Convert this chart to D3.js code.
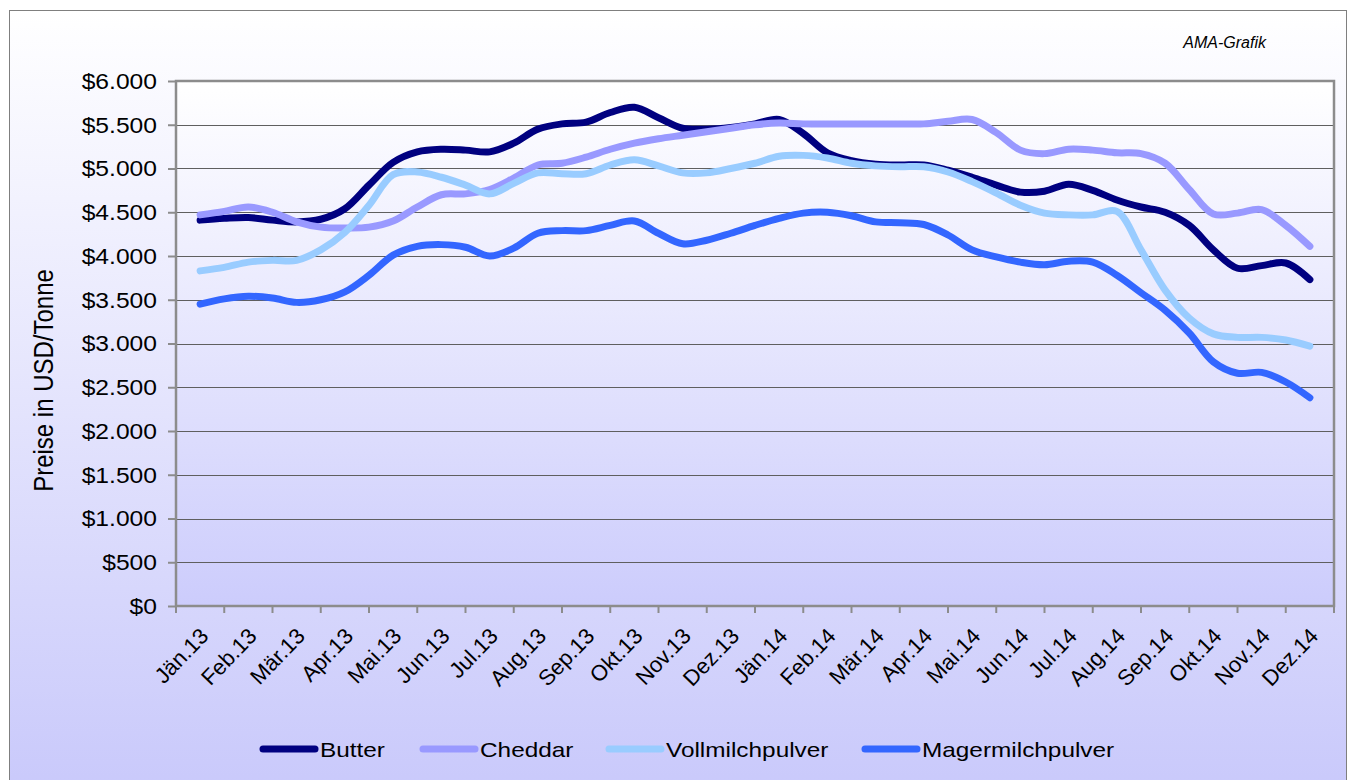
<!DOCTYPE html>
<html>
<head>
<meta charset="utf-8">
<script src="https://cdn.jsdelivr.net/npm/d3@7"></script>
<style>
  body { margin: 0; background: #fff; }
  svg { display: block; font-family: Arial, "Liberation Sans", sans-serif; }
</style>
</head>
<body>
<svg width="1348" height="780"></svg>
<script>
// month labels (category axis)
var months = ["Jän.13","Feb.13","Mär.13","Apr.13","Mai.13","Jun.13","Jul.13","Aug.13","Sep.13","Okt.13","Nov.13","Dez.13",
              "Jän.14","Feb.14","Mär.14","Apr.14","Mai.14","Jun.14","Jul.14","Aug.14","Sep.14","Okt.14","Nov.14","Dez.14"];

// semi-monthly prices, USD per tonne
var butter = [4410,4430,4440,4410,4390,4420,4540,4810,5070,5190,5220,5210,5190,5290,5450,5510,5530,5640,5700,5580,5460,5450,5470,5510,
              5560,5400,5180,5090,5050,5040,5040,4980,4900,4810,4730,4740,4820,4750,4640,4560,4500,4350,4070,3860,3890,3920,3730];
var cheddar = [4470,4510,4560,4500,4390,4330,4320,4330,4400,4560,4700,4710,4760,4890,5040,5060,5130,5220,5290,5340,5380,5420,5460,5500,
               5520,5510,5510,5510,5510,5510,5510,5540,5560,5410,5210,5170,5220,5210,5180,5170,5060,4760,4480,4490,4530,4350,4110];
var vollmilch = [3830,3870,3930,3950,3950,4070,4270,4580,4930,4960,4900,4810,4710,4830,4950,4940,4940,5040,5100,5030,4950,4950,5000,5060,
                 5140,5150,5120,5060,5030,5020,5020,4960,4850,4720,4580,4490,4470,4470,4510,4070,3610,3290,3110,3070,3070,3040,2970];
var magermilch = [3450,3510,3540,3520,3470,3500,3590,3780,4010,4110,4130,4100,4000,4090,4260,4290,4290,4350,4400,4260,4140,4180,4260,4350,
                  4430,4490,4500,4460,4390,4380,4360,4240,4070,3990,3930,3900,3940,3930,3780,3580,3380,3120,2790,2660,2670,2560,2380];

var seriesNames = ["Butter","Cheddar","Vollmilchpulver","Magermilchpulver"];
var seriesColors = ["#000080","#9999ff","#99ccff","#3366ff"];
var seriesValues = [butter, cheddar, vollmilch, magermilch];

var yTicks = [0,500,1000,1500,2000,2500,3000,3500,4000,4500,5000,5500,6000];

var svg = d3.select("svg");
var defs = svg.append("defs");

//background gradients
var bg = defs.append("linearGradient").attr("id","bgGrad").attr("x1",0).attr("y1",0).attr("x2",0).attr("y2",1);
bg.append("stop").attr("offset","0%").attr("stop-color","#ffffff");
bg.append("stop").attr("offset","100%").attr("stop-color","#c9c9fb");
var pg = defs.append("linearGradient").attr("id","plotGrad").attr("x1",0).attr("y1",0).attr("x2",0).attr("y2",1);
pg.append("stop").attr("offset","0%").attr("stop-color","#ffffff");
pg.append("stop").attr("offset","100%").attr("stop-color","#ccccfc");

svg.append("rect").attr("x",9.5).attr("y",10.5).attr("width",1337).attr("height",780)
  .style("fill","url(#bgGrad)").style("stroke","#7f7f7f").style("stroke-width",1);

var plotLeft = 176, plotRight = 1334, plotTop = 81, plotBottom = 606;
var stretch = 1.12;

var x = d3.scaleLinear().domain([-0.5, months.length - 0.5]).range([plotLeft, plotRight]);
var y = d3.scaleLinear().domain([0, 6000]).range([plotBottom, plotTop]);

svg.append("rect").attr("x",plotLeft).attr("y",plotTop).attr("width",plotRight-plotLeft).attr("height",plotBottom-plotTop)
  .style("fill","url(#plotGrad)");

//grid lines
svg.append("g").selectAll("line").data(yTicks.slice(1)).enter().append("line")
  .attr("x1",plotLeft).attr("x2",plotRight)
  .attr("y1",function(d){return Math.round(y(d))+0.5}).attr("y2",function(d){return Math.round(y(d))+0.5})
  .style("stroke","#5f5f5f").style("stroke-width",1.2);

//plot border
svg.append("rect").attr("x",plotLeft).attr("y",plotTop).attr("width",plotRight-plotLeft).attr("height",plotBottom-plotTop)
  .style("fill","none").style("stroke","#8c8c8c").style("stroke-width",2.5);

//y axis
var fmt = function(d){ return "$" + d3.format(",")(d).replace(/,/g,"."); };
var yAxis = svg.append("g").attr("transform","translate(" + plotLeft + ",0)")
  .call(d3.axisLeft(y).tickValues(yTicks).tickSize(8).tickFormat(""));
yAxis.select(".domain").remove();
yAxis.selectAll("line").style("stroke","#8c8c8c").style("stroke-width",2);

svg.append("g").selectAll("text").data(yTicks).enter().append("text")
  .attr("transform",function(d){ return "translate(157," + y(d) + ") scale(" + stretch + ",1)"; })
  .attr("text-anchor","end").attr("dy","0.36em")
  .style("font-size","22px").style("fill","#000")
  .text(fmt);

//x axis ticks at category boundaries
var xb = d3.range(months.length + 1).map(function(k){ return k - 0.5; });
svg.append("g").selectAll("line").data(xb).enter().append("line")
  .attr("x1",function(d){return x(d)}).attr("x2",function(d){return x(d)})
  .attr("y1",plotBottom).attr("y2",plotBottom+7)
  .style("stroke","#8c8c8c").style("stroke-width",2);

svg.append("g").selectAll("text").data(months).enter().append("text")
  .attr("transform",function(d,i){ return "translate(" + (x(i)-2) + "," + (plotBottom+20) + ") rotate(-46)"; })
  .attr("text-anchor","end").attr("dy","0.74em")
  .style("font-size","22px").style("fill","#000")
  .text(function(d){return d});

//y title
svg.append("text").attr("transform","translate(53," + ((plotTop+plotBottom)/2+ 37) + ") rotate(-90) scale(1,1.12)")
  .attr("text-anchor","middle").style("font-size","24px").text("Preise in USD/Tonne");

//source note
svg.append("text").attr("x",1266).attr("y",48).attr("text-anchor","end")
  .style("font-size","16px").style("font-style","italic").text("AMA-Grafik");

//lines
var line = d3.line()
  .x(function(d,i){ return x(i/2); })
  .y(function(d){ return y(d); })
  .curve(d3.curveCatmullRom.alpha(0.5));

seriesValues.forEach(function(vals, s){
  svg.append("path").datum(vals).attr("d", line)
    .style("fill","none").style("stroke",seriesColors[s]).style("stroke-width",7)
    .style("stroke-linecap","round").style("stroke-linejoin","round");
});

//legend
var legendX = [263, 423, 609, 865];
var lg = svg.append("g");
seriesNames.forEach(function(n, s){
  lg.append("line").attr("x1",legendX[s]).attr("x2",legendX[s]+52).attr("y1",749).attr("y2",749)
    .style("stroke",seriesColors[s]).style("stroke-width",7).style("stroke-linecap","round");
  lg.append("text").attr("transform","translate(" + (legendX[s]+57) + ",749) scale(1.16,1)")
    .attr("dy","0.36em").style("font-size","21px").text(n);
});
</script>
</body>
</html>
